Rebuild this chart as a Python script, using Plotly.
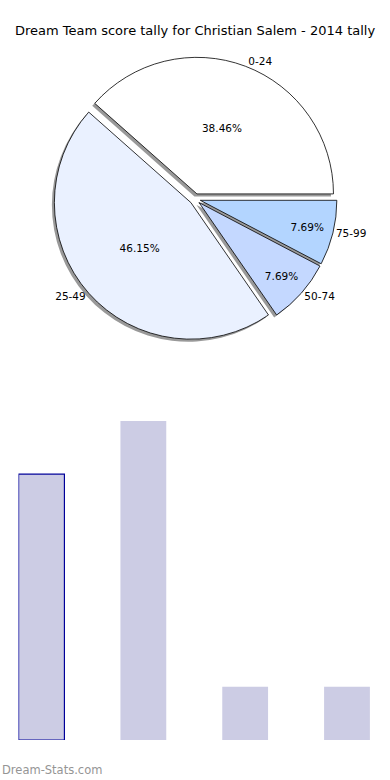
import plotly.graph_objects as go

labels = ["0-24", "25-49", "50-74", "75-99"]
counts = [5, 6, 1, 1]
pie_colors = ["#FFFFFF", "#EAF1FF", "#C4D8FF", "#B3D5FF"]
bar_color = "#CCCCE4"
title = "Dream Team score tally for Christian Salem - 2014 tally"

W, H = 390, 780
pull = [0.04, 0.04, 0.04, 0.04]
# plotly: counterclockwise pies put the first slice clockwise of the rotation angle;
# shift so the first slice starts at 3 o'clock and runs counterclockwise
rotation = 90 - 360 * counts[0] / sum(counts)
cx, cy, half = 195, 199, 142

def dom(dx=0, dy=0):
    x0 = (cx - half + dx) / W
    x1 = (cx + half + dx) / W
    y0 = (H - (cy + dy) - half) / H
    y1 = (H - (cy + dy) + half) / H
    return dict(x=[x0, x1], y=[y0, y1])

common = dict(labels=labels, values=counts, sort=False, direction="counterclockwise",
              rotation=rotation, pull=pull, showlegend=False)

fig = go.Figure()
# shadow
fig.add_trace(go.Pie(
    **common, domain=dom(-2.5, 2.5), textinfo="none", hoverinfo="skip",
    marker=dict(colors=["rgba(0,0,0,0.4)"] * 4, line=dict(width=0)),
))
# main pie with percentages
fig.add_trace(go.Pie(
    **common, domain=dom(), texttemplate="%{percent:.2%}", textposition="inside",
    insidetextorientation="horizontal",
    textfont=dict(family="DejaVu Sans", size=10.5, color="black"),
    marker=dict(colors=pie_colors, line=dict(color="black", width=0.8)),
))
# outside labels
fig.add_trace(go.Pie(
    **common, domain=dom(), textinfo="label", textposition="outside", hoverinfo="skip",
    outsidetextfont=dict(family="DejaVu Sans", size=10.5, color="black"),
    marker=dict(colors=["rgba(0,0,0,0)"] * 4, line=dict(width=0)),
))

fig.add_trace(go.Bar(
    x=labels, y=counts, width=0.45, showlegend=False,
    marker=dict(color=bar_color, line=dict(color=["#000099", bar_color, bar_color, bar_color],
                                           width=[1.2, 0, 0, 0])),
    xaxis="x", yaxis="y",
))

fig.update_layout(
    width=W, height=H, margin=dict(l=0, r=0, t=0, b=0),
    paper_bgcolor="white", plot_bgcolor="white",
    font=dict(family="DejaVu Sans", color="black"),
    title=dict(text=title, x=0.5, xanchor="center", y=(H - 30) / H, yanchor="middle",
               font=dict(family="DejaVu Sans", size=13, color="black")),
    xaxis=dict(domain=[18.5 / W, 370 / W], range=[-0.226, 3.226], visible=False),
    yaxis=dict(domain=[(H - 740) / H, (H - 421) / H], range=[0, 6], visible=False),
    annotations=[dict(text="Dream-Stats.com", x=0, xanchor="left", y=(H - 770) / H,
                      yanchor="middle", xref="paper", yref="paper", showarrow=False,
                      font=dict(family="DejaVu Sans", size=11.5, color="#959595"))],
)

fig.write_html("out.html", config={"displayModeBar": False},
               post_script="document.body.style.margin='0';")
